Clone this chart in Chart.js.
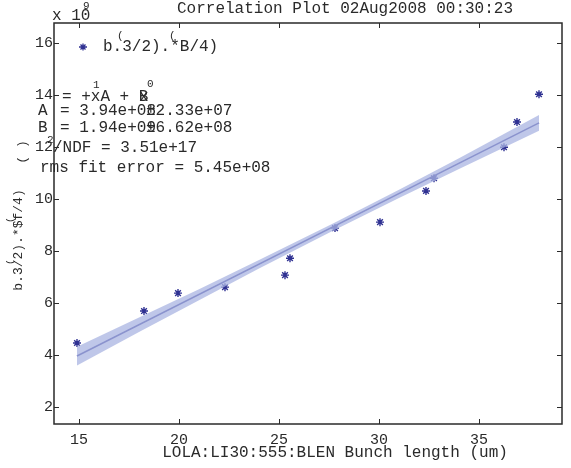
<!DOCTYPE html>
<html>
<head>
<meta charset="utf-8">
<script src="https://cdn.jsdelivr.net/npm/chart.js@4.4.0/dist/chart.umd.min.js"></script>
<style>
  html, body { margin: 0; padding: 0; background: #fff; }
  #wrap { width: 571px; height: 468px; }
</style>
</head>
<body>
<div id="wrap"><canvas id="plot" width="571" height="468"></canvas></div>
<script>
// bunch length (um) vs signal, signal in units of 1e9
const bunchLen = [14.9, 18.25, 19.95, 22.3, 25.3, 25.55, 27.8, 30.05, 32.35, 32.75, 36.25, 36.9, 38.0];
const signal   = [4.45, 5.68, 6.37, 6.6, 7.06, 7.71, 8.87, 9.1, 10.3, 10.79, 11.98, 12.95, 14.02];

// fitted line and its confidence band
const fitX = [14.9, 38.0];
const fitY = [3.95, 12.92];
const bandX  = [14.9, 18, 21, 24, 27.7, 31, 34, 38.0];
const bandHi = [4.31, 5.43, 6.52, 7.64, 9.05, 10.35, 11.56, 13.22];
const bandLo = [3.59, 4.87, 6.10, 7.32, 8.77, 10.03, 11.14, 12.62];

const xTicks = [15, 20, 25, 30, 35];
const yTicks = [2, 4, 6, 8, 10, 12, 14, 16];

const mono = 'Liberation Mono';
const ink = '#2a2a2a';
const blue = '#2f3192';

function pts(xs, ys) {
  return xs.map((x, i) => ({ x: x, y: ys[i] }));
}

// frame, inward ticks and all the loose text
const decor = {
  id: 'decor',
  afterDraw(chart) {
    const c = chart.ctx;
    const a = chart.chartArea;
    const sx = chart.scales.x, sy = chart.scales.y;
    c.save();
    c.strokeStyle = ink;
    c.lineWidth = 1.5;
    c.strokeRect(a.left, a.top, a.right - a.left, a.bottom - a.top);
    c.lineWidth = 1;
    c.beginPath();
    xTicks.forEach(v => {
      const px = Math.round(sx.getPixelForValue(v)) + 0.5;
      c.moveTo(px, a.bottom); c.lineTo(px, a.bottom - 5);
      c.moveTo(px, a.top); c.lineTo(px, a.top + 5);
    });
    yTicks.forEach(v => {
      const py = Math.round(sy.getPixelForValue(v)) + 0.5;
      c.moveTo(a.left, py); c.lineTo(a.left + 5, py);
      c.moveTo(a.right, py); c.lineTo(a.right - 5, py);
    });
    c.stroke();

    c.fillStyle = ink;
    c.textBaseline = 'middle';
    c.font = '16px "' + mono + '"';
    c.textAlign = 'center';
    c.fillText('Correlation Plot 02Aug2008 00:30:23', 345, 9);
    c.fillText('LOLA:LI30:555:BLEN Bunch length (um)', 335, 453);

    c.textAlign = 'left';
    c.fillText('x 10', 52, 16);
    c.font = '11px "' + mono + '"';
    c.fillText('9', 83, 6);

    // y axis title
    c.save();
    c.translate(19, 240);
    c.rotate(-Math.PI / 2);
    c.font = '13px "' + mono + '"';
    c.textAlign = 'center';
    c.fillText('b.3/2).*$f/4)', 0, 0);
    c.fillText('( )', 88, 4);
    c.font = '9px "' + mono + '"';
    c.fillText('(', -22, -8);
    c.fillText('(', 20, -8);
    c.restore();

    // legend
    const lx = 83, ly = 47;
    c.strokeStyle = blue;
    c.lineWidth = 1.3;
    c.beginPath();
    c.moveTo(lx - 4, ly); c.lineTo(lx + 4, ly);
    c.moveTo(lx, ly - 3.5); c.lineTo(lx, ly + 3.5);
    c.moveTo(lx - 2.5, ly - 2.5); c.lineTo(lx + 2.5, ly + 2.5);
    c.moveTo(lx - 2.5, ly + 2.5); c.lineTo(lx + 2.5, ly - 2.5);
    c.stroke();
    c.fillStyle = ink;
    c.font = '16px "' + mono + '"';
    c.fillText('b.3/2).*B/4)', 103, 47);
    c.font = '11px "' + mono + '"';
    c.fillText('(', 117, 36);
    c.fillText('(', 169, 36);

    // fit results
    c.font = '16px "' + mono + '"';
    c.fillText('= +xA + B', 62, 97);
    c.fillText('x', 139, 97);
    c.fillText('A', 38, 111);
    c.fillText('= 3.94e+08', 60, 111);
    c.fillText('\u00b12.33e+07', 146, 111);
    c.fillText('B', 38, 128);
    c.fillText('= 1.94e+09', 60, 128);
    c.fillText('\u00b16.62e+08', 146, 128);
    c.fillText('/NDF = 3.51e+17', 53, 148);
    c.fillText('rms fit error = 5.45e+08', 40, 168);
    c.font = '11px "' + mono + '"';
    c.fillText('1', 93, 85);
    c.fillText('0', 147, 84);
    c.fillText('2', 47, 140);
    c.restore();
  }
};

new Chart(document.getElementById('plot'), {
  type: 'scatter',
  data: {
    datasets: [
      {
        label: 'band low',
        type: 'line',
        data: pts(bandX, bandLo),
        borderWidth: 0,
        borderColor: 'rgba(0,0,0,0)',
        pointRadius: 0,
        fill: false
      },
      {
        label: 'band high',
        type: 'line',
        data: pts(bandX, bandHi),
        borderWidth: 0,
        borderColor: 'rgba(0,0,0,0)',
        backgroundColor: 'rgba(170,180,225,0.75)',
        pointRadius: 0,
        fill: '-1'
      },
      {
        label: 'fit',
        type: 'line',
        data: pts(fitX, fitY),
        borderColor: blue,
        borderWidth: 1.5,
        pointRadius: 0,
        fill: false
      },
      {
        label: 'b.(3/2).*(3/4)',
        data: pts(bunchLen, signal),
        pointStyle: 'star',
        radius: 4,
        borderColor: blue,
        backgroundColor: blue,
        borderWidth: 1.4
      }
    ]
  },
  options: {
    responsive: false,
    animation: false,
    layout: { padding: { left: 0, right: 9, top: 23, bottom: 0 } },
    plugins: {
      legend: { display: false },
      tooltip: { enabled: false }
    },
    scales: {
      x: {
        type: 'linear',
        min: 13.75,
        max: 39.15,
        afterFit: s => { s.height = 44; },
        afterBuildTicks: s => { s.ticks = xTicks.map(v => ({ value: v })); },
        grid: { display: false, drawTicks: false },
        border: { display: false },
        ticks: { color: ink, padding: 7, font: { family: mono, size: 15 } }
      },
      y: {
        type: 'linear',
        min: 1.335,
        max: 16.76,
        afterFit: s => { s.width = 54; },
        afterBuildTicks: s => { s.ticks = yTicks.map(v => ({ value: v })); },
        grid: { display: false, drawTicks: false },
        border: { display: false },
        ticks: { color: ink, padding: 1, font: { family: mono, size: 15 } }
      }
    }
  },
  plugins: [decor]
});
</script>
</body>
</html>
